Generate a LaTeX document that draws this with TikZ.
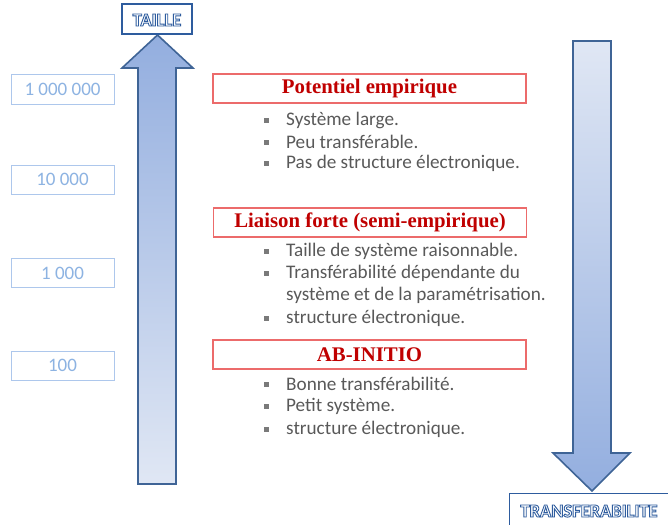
\documentclass[tikz,border=0pt]{standalone}
\usepackage{fontspec}
\setmainfont{Carlito}
\newfontfamily\headfont{Liberation Serif}
\usetikzlibrary{positioning}
\definecolor{arrowedge}{HTML}{3F6496}
\definecolor{arrowdark}{HTML}{93AEDF}
\definecolor{arrowlight}{HTML}{E0E7F4}
\definecolor{numedge}{HTML}{ADC7EC}
\definecolor{numtext}{HTML}{8DB3E2}
\definecolor{rededge}{HTML}{EC6B6B}
\definecolor{redtext}{HTML}{C00000}
\definecolor{bullettext}{HTML}{595959}
\definecolor{labelblue}{HTML}{2E5C9E}
\tikzset{
  x=1pt, y=1pt,
  numbox/.style={draw=numedge, line width=1pt, fill=white, minimum width=103pt, minimum height=29pt, inner sep=0pt, text=numtext, font=\fontsize{19}{21}\selectfont},
  redbox/.style={draw=rededge, line width=1.1pt, fill=white, minimum width=313pt, minimum height=29pt, inner sep=0pt, text=redtext, font=\headfont\bfseries\fontsize{20.8}{22}\selectfont},
  item/.style={anchor=west, inner sep=0pt, text=bullettext, font=\fontsize{19.2}{21}\selectfont},
  bul/.style={fill=bullettext!80, minimum size=5pt, inner sep=0pt},
  axisbox/.style={draw=labelblue, line width=1.2pt, fill=white, inner sep=0pt},
  arrowshape/.style={draw=arrowedge, line width=1.6pt, line join=miter},
  axislabel/.style={font=\bfseries\fontsize{18.5}{20}\selectfont}
}
\newcommand{\outl}[1]{\textcolor{white}{\special{pdf:literal direct 2 Tr 0.9 w 0.18 0.36 0.62 RG}#1\special{pdf:literal direct 0 Tr}}}
\begin{document}
\begin{tikzpicture}
\useasboundingbox (0,0) rectangle (668,-524);
% up arrow
\draw[arrowshape, top color=arrowdark, bottom color=arrowlight]
  (138,-484) -- (138,-68) -- (122,-68) -- (157.5,-35) -- (193,-68) -- (176,-68) -- (176,-484) -- cycle;
% down arrow
\draw[arrowshape, top color=arrowlight, bottom color=arrowdark]
  (573,-41) -- (611,-41) -- (611,-453) -- (630,-453) -- (592,-491) -- (553,-453) -- (573,-453) -- cycle;
% axis labels
\node[axisbox, minimum width=70pt, minimum height=30pt] (taille) at (157,-19) {};
\node[axislabel] (tailletxt) at (157,-20) {\outl{TAILLE}};
\node[axisbox, anchor=north west, minimum width=170pt, minimum height=34pt] (transf) at (509,-493) {};
\node[axislabel] (transftxt) at (589,-511) {\outl{TRANSFERABILITE}};
% scale boxes
\node[numbox] (n1) at (62.5,-89.5) {1 000 000};
\node[numbox] (n2) at (62.5,-179.5) {10 000};
\node[numbox] (n3) at (62.5,-273) {1 000};
\node[numbox] (n4) at (62.5,-365.5) {100};
% headings
\node[redbox] (h1) at (369.5,-88.5) {Potentiel empirique};
\node[redbox] (h2) at (370,-222.5) {Liaison forte (semi-empirique)};
\node[redbox] (h3) at (369.5,-354.5) {AB-INITIO};
% items group 1
\node[bul] (b11) at (266.5,-120) {}; \node[item] (t11) at (286,-120) {Système large.};
\node[bul] (b12) at (266.5,-142) {}; \node[item] (t12) at (286,-142) {Peu transférable.};
\node[bul] (b13) at (266.5,-163.5) {}; \node[item] (t13) at (286,-163.5) {Pas de structure électronique.};
% items group 2
\node[bul] (b21) at (266.5,-251) {}; \node[item] (t21) at (286,-251) {Taille de système raisonnable.};
\node[bul] (b22) at (266.5,-273) {}; \node[item] (t22) at (286,-273) {Transférabilité dépendante du};
\node[item] (t22b) at (286,-295.5) {système et de la paramétrisation.};
\node[bul] (b23) at (266.5,-318) {}; \node[item] (t23) at (286,-318) {structure électronique.};
% items group 3
\node[bul] (b31) at (266.5,-384) {}; \node[item] (t31) at (286,-384) {Bonne transférabilité.};
\node[bul] (b32) at (266.5,-406.5) {}; \node[item] (t32) at (286,-406.5) {Petit système.};
\node[bul] (b33) at (266.5,-429) {}; \node[item] (t33) at (286,-429) {structure électronique.};
\end{tikzpicture}
\end{document}
